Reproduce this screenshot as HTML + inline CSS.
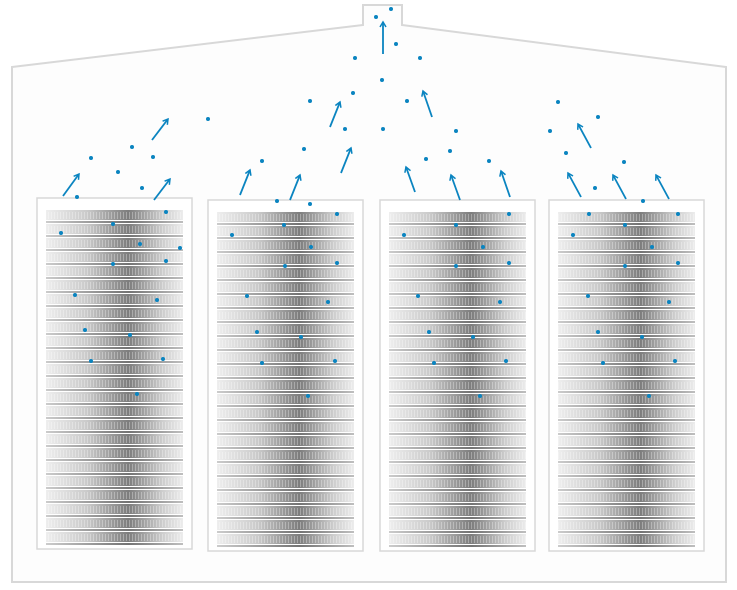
<!DOCTYPE html>
<html><head><meta charset="utf-8"><style>html,body{margin:0;padding:0;background:#fff}svg{display:block}</style></head>
<body>
<svg id="s" width="737" height="590" viewBox="0 0 737 590" xmlns="http://www.w3.org/2000/svg">
<defs>
<linearGradient id="hg" x1="0" x2="1" y1="0" y2="0">
<stop offset="0" stop-color="#ececec"/><stop offset="0.3" stop-color="#c4c4c4"/><stop offset="0.6" stop-color="#6e6e6e"/><stop offset="0.85" stop-color="#c8c8c8"/><stop offset="1" stop-color="#eaeaea"/>
</linearGradient>
<linearGradient id="lg" x1="0" x2="1" y1="0" y2="0">
<stop offset="0" stop-color="#bbb"/><stop offset="0.6" stop-color="#444"/><stop offset="1" stop-color="#aaa"/>
</linearGradient>
<pattern id="vs" width="3" height="10" patternUnits="userSpaceOnUse"><rect width="1" height="10" fill="#fff" opacity="0.3"/></pattern>
<marker id="ah" markerWidth="8" markerHeight="8" refX="6" refY="4" orient="auto" markerUnits="userSpaceOnUse"><path d="M1,1 L6,4 L1,7" fill="none" stroke="#0a84c0" stroke-width="1.5"/></marker>
</defs>
<polygon points="12,67 363,25 363,5 402,5 402,25 726,67 726,582 12,582" fill="#fdfdfd" stroke="#d8d8d8" stroke-width="2"/>
<g id="cols"></g>
<g id="arr" stroke="#0a84c0" stroke-width="1.8" marker-end="url(#ah)"></g>
<g id="dots" fill="#0a84c0"></g>
</svg>
<script>
var NS="http://www.w3.org/2000/svg";function el(p,t,a){var e=document.createElementNS(NS,t);for(var k in a)e.setAttribute(k,a[k]);p.appendChild(e);return e}
var cols=document.getElementById('cols');
[[37,198],[208,200],[380,200],[549,200]].forEach(function(c){
 var x=c[0],y=c[1];
 el(cols,'rect',{x:x,y:y,width:155,height:351,fill:'#fff',stroke:'#d8d8d8','stroke-width':1.5});
 for(var i=0;i<24;i++){var yy=y+12+i*14;
  el(cols,'rect',{x:x+9,y:yy,width:137,height:10,fill:'url(#hg)',opacity:0.9});
  el(cols,'rect',{x:x+9,y:yy+2,width:137,height:7,fill:'url(#vs)'});
  el(cols,'rect',{x:x+9,y:yy+11,width:137,height:2,fill:'url(#lg)',opacity:0.75});
 }
});
var A=[[383,54,383,22],[330,127,340,102],[432,117,423,91],[152,140,168,119],[591,148,578,124],[341,173,351,148],[63,196,79,174],[154,200,170,179],[240,195,250,170],[290,200,300,175],[415,192,406,167],[460,200,451,175],[510,197,501,171],[581,197,568,173],[626,199,613,175],[669,199,656,175]];
var ag=document.getElementById('arr');A.forEach(function(a){el(ag,'line',{x1:a[0],y1:a[1],x2:a[2],y2:a[3]})});
var D=[391,9,376,17,396,44,355,58,420,58,382,80,353,93,310,101,407,101,558,102,208,119,598,117,345,129,383,129,456,131,550,131,132,147,304,149,450,151,91,158,153,157,262,161,426,159,566,153,489,161,624,162,118,172,142,188,595,188,77,197,277,201,310,204,643,201,166,212,337,214,509,214,589,214,678,214,113,224,284,225,456,225,625,225,61,233,232,235,404,235,573,235,140,244,311,247,483,247,652,247,180,248,166,261,337,263,509,263,678,263,113,264,285,266,456,266,625,266,75,295,247,296,418,296,588,296,157,300,328,302,500,302,669,302,85,330,257,332,429,332,598,332,130,335,301,337,473,337,642,337,163,359,335,361,506,361,675,361,91,361,262,363,434,363,603,363,137,394,308,396,480,396,649,396];
var dg=document.getElementById('dots');for(var i=0;i<D.length;i+=2)el(dg,'circle',{cx:D[i],cy:D[i+1],r:2});
</script>
</body></html>
